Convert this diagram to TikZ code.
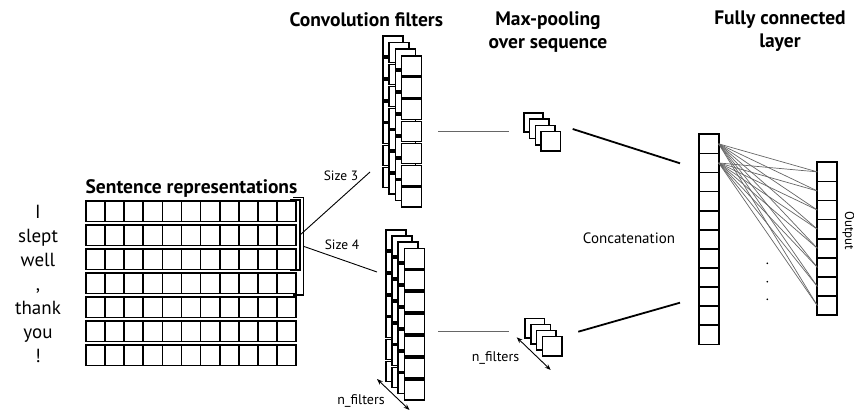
\documentclass[tikz,border=0pt]{standalone}
\usepackage{fontspec}
\setmainfont{PT Sans}
\usetikzlibrary{arrows.meta}
\begin{document}
\begin{tikzpicture}[x=1pt,y=-1pt,
  cell/.style={draw, line width=1.7pt, fill=white, inner sep=0pt, outer sep=0pt, anchor=north west, minimum width=19.1pt, minimum height=20.5pt},
  fsq/.style={draw, line width=1.6pt, fill=white, inner sep=0pt, outer sep=0pt, anchor=north west, minimum size=20pt},
  psq/.style={draw, line width=1.6pt, fill=white, inner sep=0pt, outer sep=0pt, anchor=north west, minimum size=19.5pt},
  ccell/.style={draw, line width=1.7pt, fill=white, inner sep=0pt, outer sep=0pt, anchor=north west, minimum width=19.7pt, minimum height=19.1pt},
  ocell/.style={draw, line width=1.7pt, fill=white, inner sep=0pt, outer sep=0pt, anchor=north west, minimum width=19.4pt, minimum height=19.1pt},
  title/.style={font=\bfseries\fontsize{19.5}{22.5}\selectfont, align=center, inner sep=0pt},
  lbl/.style={font=\fontsize{13.5}{15}\selectfont, inner sep=0pt},
  word/.style={font=\fontsize{19}{21}\selectfont, inner sep=0pt, anchor=base},
  brk/.style={line width=1.1pt},
  thinline/.style={draw=black!60, line width=1.1pt},
  link/.style={line width=1.8pt},
  fc/.style={draw=black!60, line width=0.7pt},
  dimarrow/.style={{Stealth[length=6pt,width=4.5pt]}-{Stealth[length=6pt,width=4.5pt]}, line width=0.9pt}
]
\useasboundingbox (0,0) rectangle (854,412);

% Titles
\node[title, anchor=base] (tsent) at (191.5,193.3) {Sentence representations};
\node[title, anchor=base] (tconv) at (366.3,26.7) {Convolution filters};
\node[title] (tpool) at (548,32) {Max-pooling\\over sequence};
\node[title] (tfc) at (780,31) {Fully connected\\layer};

% Words
\foreach \w [count=\i] in {I, slept, well, {,}, thank, you, !}
  \node[word] (w\i) at (38,{218+(\i-1)*24}) {\w};

% Sentence grid
\foreach \r in {1,...,7}
  \foreach \c in {1,...,11}
    \node[cell] (s\r-\c) at ({86+(\c-1)*19.1},{201+(\r-1)*24}) {};

% Brackets
\draw[brk] (290,200) -- (300,200) -- (300,270) -- (290,270);
\draw[brk] (293,197.7) -- (303.5,197.7) -- (303.5,295) -- (293,295);

% Size lines
\coordinate (b3m) at (300,235);
\coordinate (c3e) at (370,172);
\coordinate (b4m) at (303.5,246.3);
\coordinate (c4e) at (377,272);
\draw[line width=0.9pt] (b3m) -- (c3e);
\draw[line width=0.9pt] (b4m) -- (c4e);
\node[lbl, anchor=base] (sz3) at (341,180.7) {Size 3};
\node[lbl, anchor=base] (sz4) at (342,249.3) {Size 4};

% Convolution filter stacks
\foreach \k in {0,...,3}
  \foreach \j in {1,...,7}
    \node[fsq] (fa\k-\j) at ({382.7+6.3*\k},{36+6.6*\k+(\j-1)*21.9}) {};
\foreach \k in {0,...,3}
  \foreach \j in {1,...,7}
    \node[fsq] (fb\k-\j) at ({385.7+6.2*\k},{230+6.1*\k+(\j-1)*21.9}) {};

% n_filters arrow (conv)
\coordinate (na1) at (377,379);
\coordinate (na2) at (409.5,410);
\draw[dimarrow] (na1) -- (na2);
\node[lbl, font=\fontsize{14}{16}\selectfont] (nf1) at (361,400.5) {n\_filters};

% Gray lines conv -> pool
\coordinate (h1a) at (438,131.7);
\coordinate (h1b) at (509,131.7);
\coordinate (h2a) at (438,331.7);
\coordinate (h2b) at (509,331.7);
\draw[thinline] (h1a) -- (h1b);
\draw[thinline] (h2a) -- (h2b);

% Pool stacks
\foreach \k in {0,...,3}
  \node[psq] (pa\k) at ({523.7+5.8*\k},{112.7+6.3*\k}) {};
\foreach \k in {0,...,3}
  \node[psq] (pb\k) at ({525+5.8*\k},{318.3+6.1*\k}) {};

% n_filters arrow (pool)
\coordinate (nb1) at (516.7,337.3);
\coordinate (nb2) at (550.7,370);
\draw[dimarrow] (nb1) -- (nb2);
\node[lbl, font=\fontsize{14}{16}\selectfont] (nf2) at (495.5,357.5) {n\_filters};

% Lines pool -> concatenation
\coordinate (p1o) at (572.7,129);
\coordinate (ci1) at (680,163.3);
\coordinate (p2o) at (578.3,331.7);
\coordinate (ci2) at (680,302.7);
\draw[link] (p1o) -- (ci1);
\draw[link] (p2o) -- (ci2);

\node[font=\fontsize{15}{17}\selectfont, inner sep=0pt] (concat) at (629,238) {Concatenation};

% Concatenation column
\foreach \i in {1,...,11}
  \node[ccell] (cc\i) at (699,{134.3+(\i-1)*19.1}) {};
% Output column
\foreach \i in {1,...,8}
  \node[ocell] (oc\i) at (817.3,{162.3+(\i-1)*19.1}) {};

% Fully connected lines
\foreach \i in {1,...,8} {
  \draw[fc] (cc1.east) -- (oc\i.west);
  \draw[fc] (cc2.east) -- (oc\i.west);
}

% Dots
\fill (767.3,263.3) circle (0.9);
\fill (767.3,281.7) circle (0.9);
\fill (767.3,299.3) circle (0.9);

\node[inner sep=0pt, rotate=-90, font=\fontsize{13}{15}\selectfont] (outlbl) at (848.5,231) {Output};
\end{tikzpicture}
\end{document}
